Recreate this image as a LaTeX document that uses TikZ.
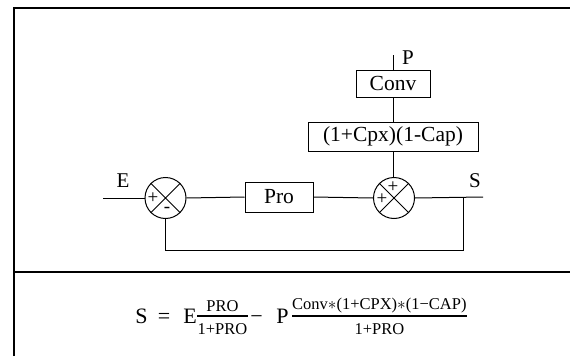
\documentclass[tikz,border=0pt]{standalone}
\usepackage{fontspec}
\setmainfont{Liberation Serif}
\begin{document}
\begin{tikzpicture}[x=1pt,y=-1pt,
  frame/.style={line width=2pt},
  wire/.style={line width=1pt},
  blk/.style={draw,line width=1pt,rectangle,inner sep=0pt,font=\fontsize{21.5}{21.5}\selectfont},
  sumj/.style={draw,line width=1pt,circle,minimum size=41pt,inner sep=0pt},
  lbl/.style={inner sep=0pt,font=\fontsize{21}{21}\selectfont},
  sgn/.style={inner sep=0pt,font=\fontsize{19}{19}\selectfont},
  big/.style={inner sep=0pt,anchor=base,font=\fontsize{22}{22}\selectfont},
  fr/.style={inner sep=0pt,font=\fontsize{16.5}{16.5}\selectfont},
  bar/.style={line width=1.2pt}]
\useasboundingbox (0,0) rectangle (570,356);
% frame
\coordinate (tl) at (14,7.5);
\coordinate (tr) at (570,7.5);
\coordinate (bl) at (14,356);
\coordinate (dl) at (14,272);
\coordinate (dr) at (570,272);
\draw[frame] (bl) -- (tl) -- (tr);
\draw[frame] (dl) -- (dr);
% junctions
\node[sumj] (s1) at (165.5,198) {};
\node[sumj] (s2) at (394,198) {};
\draw[wire] (s1.north west) -- (s1.south east) (s1.north east) -- (s1.south west);
\draw[wire] (s2.north west) -- (s2.south east) (s2.north east) -- (s2.south west);
\node[sgn] (p1) at (153,198) {+};
\node[sgn] (m1) at (167,210) {-};
\node[sgn] (p2) at (393,187.5) {+};
\node[sgn] (p3) at (382,199) {+};
% blocks
\node[blk,minimum width=68pt,minimum height=30pt] (pro) at (279,197) {Pro};
\node[blk,minimum width=170pt,minimum height=29pt] (cpx) at (393,136.5) {(1+Cpx)(1-Cap)};
\node[blk,minimum width=74pt,minimum height=27pt] (conv) at (393,83.5) {Conv};
% labels
\node[lbl] (E) at (123,181) {E};
\node[lbl] (S) at (475,181) {S};
\node[lbl] (P) at (408,58) {P};
% wires
\coordinate (ein) at (103,198);
\coordinate (sout) at (483,197);
\coordinate (tap) at (463,197);
\coordinate (fb) at (463,250);
\coordinate (pin) at (393,55);
\draw[wire] (ein) -- (s1.west);
\draw[wire] (s1.east) -- (pro.west);
\draw[wire] (pro.east) -- (s2.west);
\draw[wire] (s2.east) -- (sout);
\draw[wire] (tap) -- (fb) -| (s1.south);
\draw[wire] (pin) -- (conv.north);
\draw[wire] (conv.south) -- (cpx.north);
\draw[wire] (cpx.south) -- (cpx.south |- s2.north);
% formula
\node[big] (fS) at (141.5,323) {S};
\node[big] (feq) at (164,323) {=};
\node[big] (fE) at (190,323) {E};
\node[fr] (d1) at (222.5,329) {1+PRO};
\node[fr] (n1) at (222.5,306) {PRO};
\draw[bar] (d1.west |- 0,316) -- (d1.east |- 0,316);
\node[big] (fm) at (256.5,323) {−};
\node[big] (fP) at (282.5,323) {P};
\node[fr,anchor=west] (n2) at (292,306) {Conv$\ast$(1+CPX)$\ast$(1−CAP)};
\node[fr] (d2) at (n2.center |- 0,329) {1+PRO};
\draw[bar] (n2.west |- 0,316) -- (n2.east |- 0,316);
\end{tikzpicture}
\end{document}
